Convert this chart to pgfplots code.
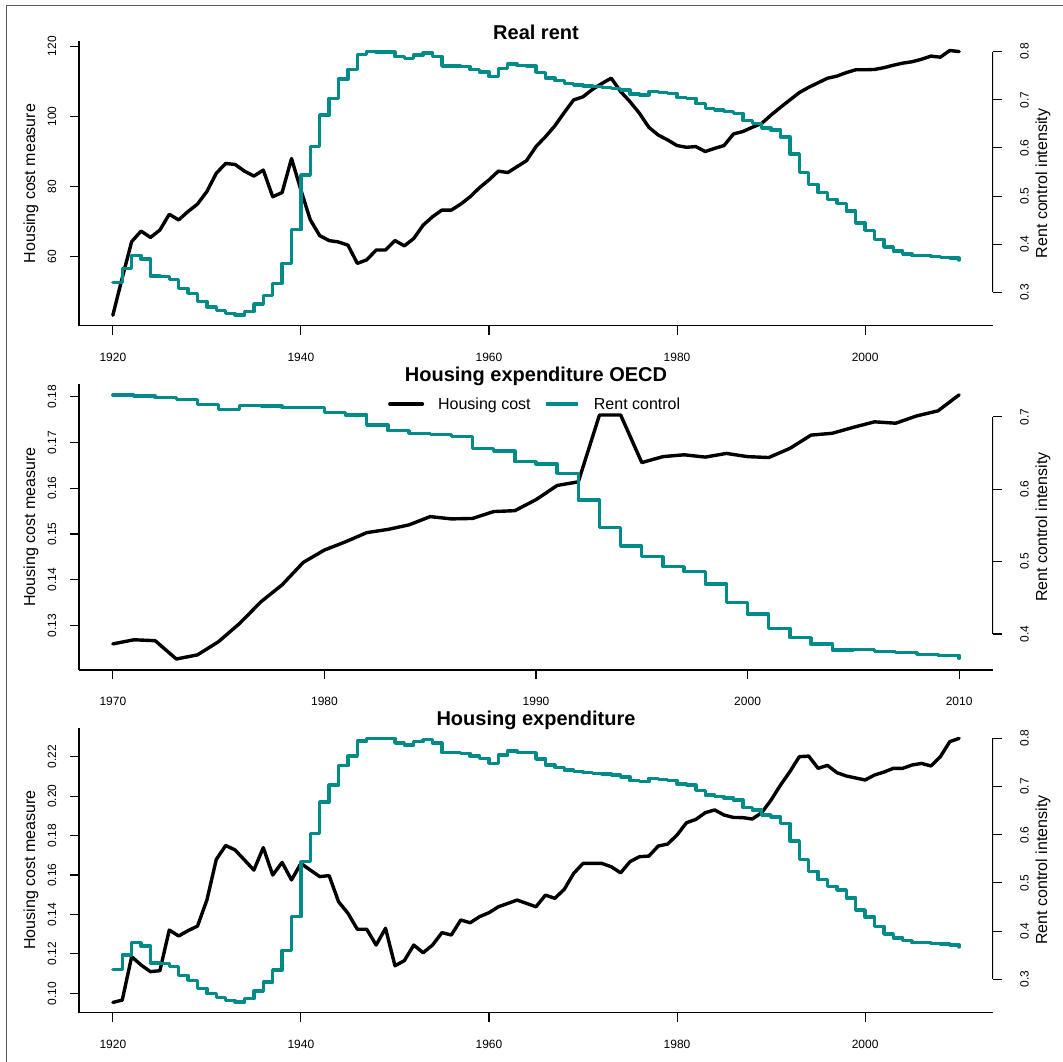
\documentclass[border=0pt]{standalone}
\usepackage{fontspec}
\setmainfont{Liberation Sans}
\usepackage{pgfplots}
\usepackage{pgfplotstable}
\pgfplotsset{compat=1.18}
\definecolor{rc}{RGB}{0,139,139}

\pgfplotstableread{
year val
1920 0.320
1921 0.350
1922 0.376
1923 0.369
1924 0.334
1925 0.333
1926 0.327
1927 0.308
1928 0.298
1929 0.281
1930 0.270
1931 0.262
1932 0.256
1933 0.253
1934 0.260
1935 0.276
1936 0.294
1937 0.319
1938 0.360
1939 0.430
1940 0.544
1941 0.603
1942 0.668
1943 0.703
1944 0.743
1945 0.763
1946 0.794
1947 0.800
1948 0.799
1949 0.799
1950 0.790
1951 0.786
1952 0.793
1953 0.797
1954 0.790
1955 0.770
1956 0.770
1957 0.769
1958 0.763
1959 0.758
1960 0.748
1961 0.765
1962 0.774
1963 0.771
1964 0.770
1965 0.757
1966 0.745
1967 0.740
1968 0.734
1969 0.731
1970 0.729
1971 0.727
1972 0.726
1973 0.724
1974 0.720
1975 0.712
1976 0.710
1977 0.717
1978 0.715
1979 0.713
1980 0.705
1981 0.703
1982 0.692
1983 0.682
1984 0.679
1985 0.676
1986 0.672
1987 0.657
1988 0.651
1989 0.641
1990 0.637
1991 0.623
1992 0.587
1993 0.549
1994 0.524
1995 0.507
1996 0.493
1997 0.485
1998 0.469
1999 0.444
2000 0.429
2001 0.410
2002 0.394
2003 0.386
2004 0.380
2005 0.376
2006 0.376
2007 0.374
2008 0.373
2009 0.371
2010 0.367
}\rentcontrol

\pgfplotstableread{
year val
1920 43.3
1921 54.0
1922 64.3
1923 67.3
1924 65.5
1925 67.6
1926 72.1
1927 70.5
1928 72.9
1929 75.0
1930 78.6
1931 83.8
1932 86.6
1933 86.3
1934 84.4
1935 83.0
1936 84.7
1937 77.1
1938 78.3
1939 88.0
1940 79.0
1941 70.5
1942 66.0
1943 64.6
1944 64.2
1945 63.3
1946 58.1
1947 59.1
1948 61.9
1949 61.9
1950 64.6
1951 63.1
1952 65.2
1953 69.0
1954 71.4
1955 73.3
1956 73.3
1957 75.0
1958 77.1
1959 79.7
1960 81.9
1961 84.4
1962 84.0
1963 85.7
1964 87.4
1965 91.4
1966 94.2
1967 97.3
1968 101.1
1969 104.7
1970 105.6
1971 107.7
1972 109.4
1973 110.9
1974 107.1
1975 104.2
1976 100.9
1977 96.9
1978 94.7
1979 93.3
1980 91.7
1981 91.2
1982 91.4
1983 90.0
1984 90.9
1985 91.7
1986 95.0
1987 95.7
1988 96.9
1989 98.0
1990 100.4
1991 102.6
1992 104.7
1993 106.8
1994 108.3
1995 109.6
1996 110.9
1997 111.5
1998 112.5
1999 113.3
2000 113.3
2001 113.4
2002 113.9
2003 114.6
2004 115.2
2005 115.6
2006 116.3
2007 117.2
2008 116.9
2009 118.8
2010 118.5
}\realrent

\pgfplotstableread{
year val
1970 0.1260
1971 0.1269
1972 0.1267
1973 0.1227
1974 0.1236
1975 0.1265
1976 0.1305
1977 0.1352
1978 0.1389
1979 0.1438
1980 0.1465
1981 0.1483
1982 0.1503
1983 0.1510
1984 0.1520
1985 0.1538
1986 0.1533
1987 0.1534
1988 0.1549
1989 0.1551
1990 0.1575
1991 0.1606
1992 0.1614
1993 0.1760
1994 0.1760
1995 0.1656
1996 0.1669
1997 0.1673
1998 0.1668
1999 0.1676
2000 0.1669
2001 0.1667
2002 0.1687
2003 0.1716
2004 0.1720
2005 0.1733
2006 0.1745
2007 0.1742
2008 0.1758
2009 0.1769
2010 0.1804
}\oecdcost

\pgfplotstableread{
year val
1970 0.7300
1971 0.7286
1972 0.7263
1973 0.7240
1974 0.7171
1975 0.7102
1976 0.7152
1977 0.7147
1978 0.7125
1979 0.7130
1980 0.7056
1981 0.7024
1982 0.6885
1983 0.6807
1984 0.6771
1985 0.6757
1986 0.6724
1987 0.6559
1988 0.6526
1989 0.6379
1990 0.6347
1991 0.6218
1992 0.5850
1993 0.5468
1994 0.5215
1995 0.5068
1996 0.4930
1997 0.4861
1998 0.4690
1999 0.4433
2000 0.4276
2001 0.4078
2002 0.3949
2003 0.3862
2004 0.3779
2005 0.3788
2006 0.3756
2007 0.3742
2008 0.3719
2009 0.3705
2010 0.3664
}\oecdrc

\pgfplotstableread{
year val
1920 0.0954
1921 0.0966
1922 0.1186
1923 0.1144
1924 0.1110
1925 0.1115
1926 0.1321
1927 0.1291
1928 0.1318
1929 0.1341
1930 0.1473
1931 0.1679
1932 0.1750
1933 0.1727
1934 0.1676
1935 0.1625
1936 0.1739
1937 0.1600
1938 0.1664
1939 0.1575
1940 0.1659
1941 0.1625
1942 0.1592
1943 0.1597
1944 0.1465
1945 0.1406
1946 0.1325
1947 0.1325
1948 0.1245
1949 0.1330
1950 0.1140
1951 0.1166
1952 0.1245
1953 0.1206
1954 0.1245
1955 0.1308
1956 0.1296
1957 0.1372
1958 0.1358
1959 0.1389
1960 0.1409
1961 0.1439
1962 0.1456
1963 0.1473
1964 0.1456
1965 0.1439
1966 0.1498
1967 0.1482
1968 0.1527
1969 0.1608
1970 0.1659
1971 0.1659
1972 0.1659
1973 0.1642
1974 0.1611
1975 0.1668
1976 0.1693
1977 0.1696
1978 0.1747
1979 0.1757
1980 0.1803
1981 0.1865
1982 0.1882
1983 0.1916
1984 0.1930
1985 0.1904
1986 0.1892
1987 0.1891
1988 0.1884
1989 0.1916
1990 0.1980
1991 0.2056
1992 0.2124
1993 0.2200
1994 0.2203
1995 0.2141
1996 0.2156
1997 0.2119
1998 0.2102
1999 0.2092
2000 0.2082
2001 0.2107
2002 0.2122
2003 0.2141
2004 0.2141
2005 0.2158
2006 0.2166
2007 0.2153
2008 0.2200
2009 0.2276
2010 0.2293
}\hexp

\pgfplotsset{
  rbase/.style={scale only axis, width=914pt, anchor=south west,
    tick align=outside, major tick length=9pt,
    every tick/.style={black, line width=1.1pt, line cap=butt},
    axis line style={black, line width=1.1pt},
    tick label style={inner sep=0pt, font=\fontsize{12}{14}\selectfont},
    xticklabel style={anchor=north}, xticklabel shift=18pt},
  rleft/.style={rbase, axis lines*=left,
    yticklabel style={rotate=90, anchor=south}, yticklabel shift=13.5pt},
  rright/.style={rbase, hide x axis, axis y line*=right,
    y axis line style={draw=none},
    yticklabel style={rotate=90, anchor=north}, yticklabel shift=18pt},
  hcline/.style={black, line width=3.4pt, line join=round, line cap=round},
  rcline/.style={rc, line width=3.4pt, const plot, line join=round, line cap=round},
}

\begin{document}
\begin{tikzpicture}
\path[use as bounding box] (0pt,0pt) rectangle (1063pt,1062pt);
\draw[line width=1pt, black!65] (6pt,0pt) -- (6pt,1056pt) -- (1063pt,1056pt);

% ---------- Panel 1: Real rent ----------
\begin{axis}[rleft, at={(79pt,736.3pt)}, height=284.4pt,
  xmin=1916.4, xmax=2013.6, ymin=40.33, ymax=121.43,
  xtick={1920,1940,1960,1980,2000}, xticklabels={1920,1940,1960,1980,2000},
  ytick={60,80,100,120}, yticklabels={60,80,100,120}]
\addplot[hcline] table[x=year,y=val] {\realrent};
\end{axis}
\begin{axis}[rright, at={(79pt,736.3pt)}, height=284.4pt,
  xmin=1916.4, xmax=2013.6, ymin=0.2308, ymax=0.8215,
  ytick={0.3,0.4,0.5,0.6,0.7,0.8}, yticklabels={0.3,0.4,0.5,0.6,0.7,0.8}]
\addplot[rcline] table[x=year,y=val] {\rentcontrol};
\draw[black, line width=1.1pt] (axis cs:2013.6,0.3) -- (axis cs:2013.6,0.8);
\end{axis}

% ---------- Panel 2: Housing expenditure OECD ----------
\begin{axis}[rleft, at={(79pt,392pt)}, height=285.7pt,
  xmin=1968.4, xmax=2011.6, ymin=0.1203, ymax=0.1827,
  xtick={1970,1980,1990,2000,2010}, xticklabels={1970,1980,1990,2000,2010},
  ytick={0.13,0.14,0.15,0.16,0.17,0.18}, yticklabels={0.13,0.14,0.15,0.16,0.17,0.18},
  legend image code/.code={\draw[#1] (0pt,0pt) -- (32.6pt,0pt);},
  legend style={draw=none, fill=none, at={(axis description cs:0.498,0.931)}, anchor=center,
    legend columns=-1, font=\fontsize{16}{19}\selectfont, nodes={inner sep=0pt},
    /tikz/every odd column/.append style={column sep=14pt},
    /tikz/every even column/.append style={column sep=13.3pt}}]
\addplot[hcline] table[x=year,y=val] {\oecdcost};
\addlegendentry{Housing cost}
\addlegendimage{rc, line width=3.4pt}
\addlegendentry{Rent control}
\end{axis}
\begin{axis}[rright, at={(79pt,392pt)}, height=285.7pt,
  xmin=1968.4, xmax=2011.6, ymin=0.3503, ymax=0.7447,
  ytick={0.4,0.5,0.6,0.7}, yticklabels={0.4,0.5,0.6,0.7}]
\addplot[rcline] table[x=year,y=val] {\oecdrc};
\draw[black, line width=1.1pt] (axis cs:2011.6,0.4) -- (axis cs:2011.6,0.7);
\end{axis}

% ---------- Panel 3: Housing expenditure ----------
\begin{axis}[rleft, at={(79pt,49.3pt)}, height=285pt,
  xmin=1916.4, xmax=2013.6, ymin=0.0902, ymax=0.2347,
  xtick={1920,1940,1960,1980,2000}, xticklabels={1920,1940,1960,1980,2000},
  ytick={0.10,0.12,0.14,0.16,0.18,0.20,0.22}, yticklabels={0.10,0.12,0.14,0.16,0.18,0.20,0.22}]
\addplot[hcline] table[x=year,y=val] {\hexp};
\end{axis}
\begin{axis}[rright, at={(79pt,49.3pt)}, height=285pt,
  xmin=1916.4, xmax=2013.6, ymin=0.2307, ymax=0.822,
  ytick={0.3,0.4,0.5,0.6,0.7,0.8}, yticklabels={0.3,0.4,0.5,0.6,0.7,0.8}]
\addplot[rcline] table[x=year,y=val] {\rentcontrol};
\draw[black, line width=1.1pt] (axis cs:2013.6,0.3) -- (axis cs:2013.6,0.8);
\end{axis}

% ---------- titles and axis labels ----------
\node[anchor=base, font=\bfseries\fontsize{20}{24}\selectfont] at (536pt,1022.7pt) {Real rent};
\node[anchor=base, font=\bfseries\fontsize{20}{24}\selectfont] at (536pt,680.3pt) {Housing expenditure OECD};
\node[anchor=base, font=\bfseries\fontsize{20}{24}\selectfont] at (536pt,336.3pt) {Housing expenditure};

\foreach \yc in {878.5,534.8,191.8}{
  \node[rotate=90, font=\fontsize{16}{19}\selectfont] at (31pt,\yc pt) {Housing cost measure};
  \node[rotate=90, font=\fontsize{16}{19}\selectfont] at (1043pt,\yc pt) {Rent control intensity};
}
\end{tikzpicture}
\end{document}
